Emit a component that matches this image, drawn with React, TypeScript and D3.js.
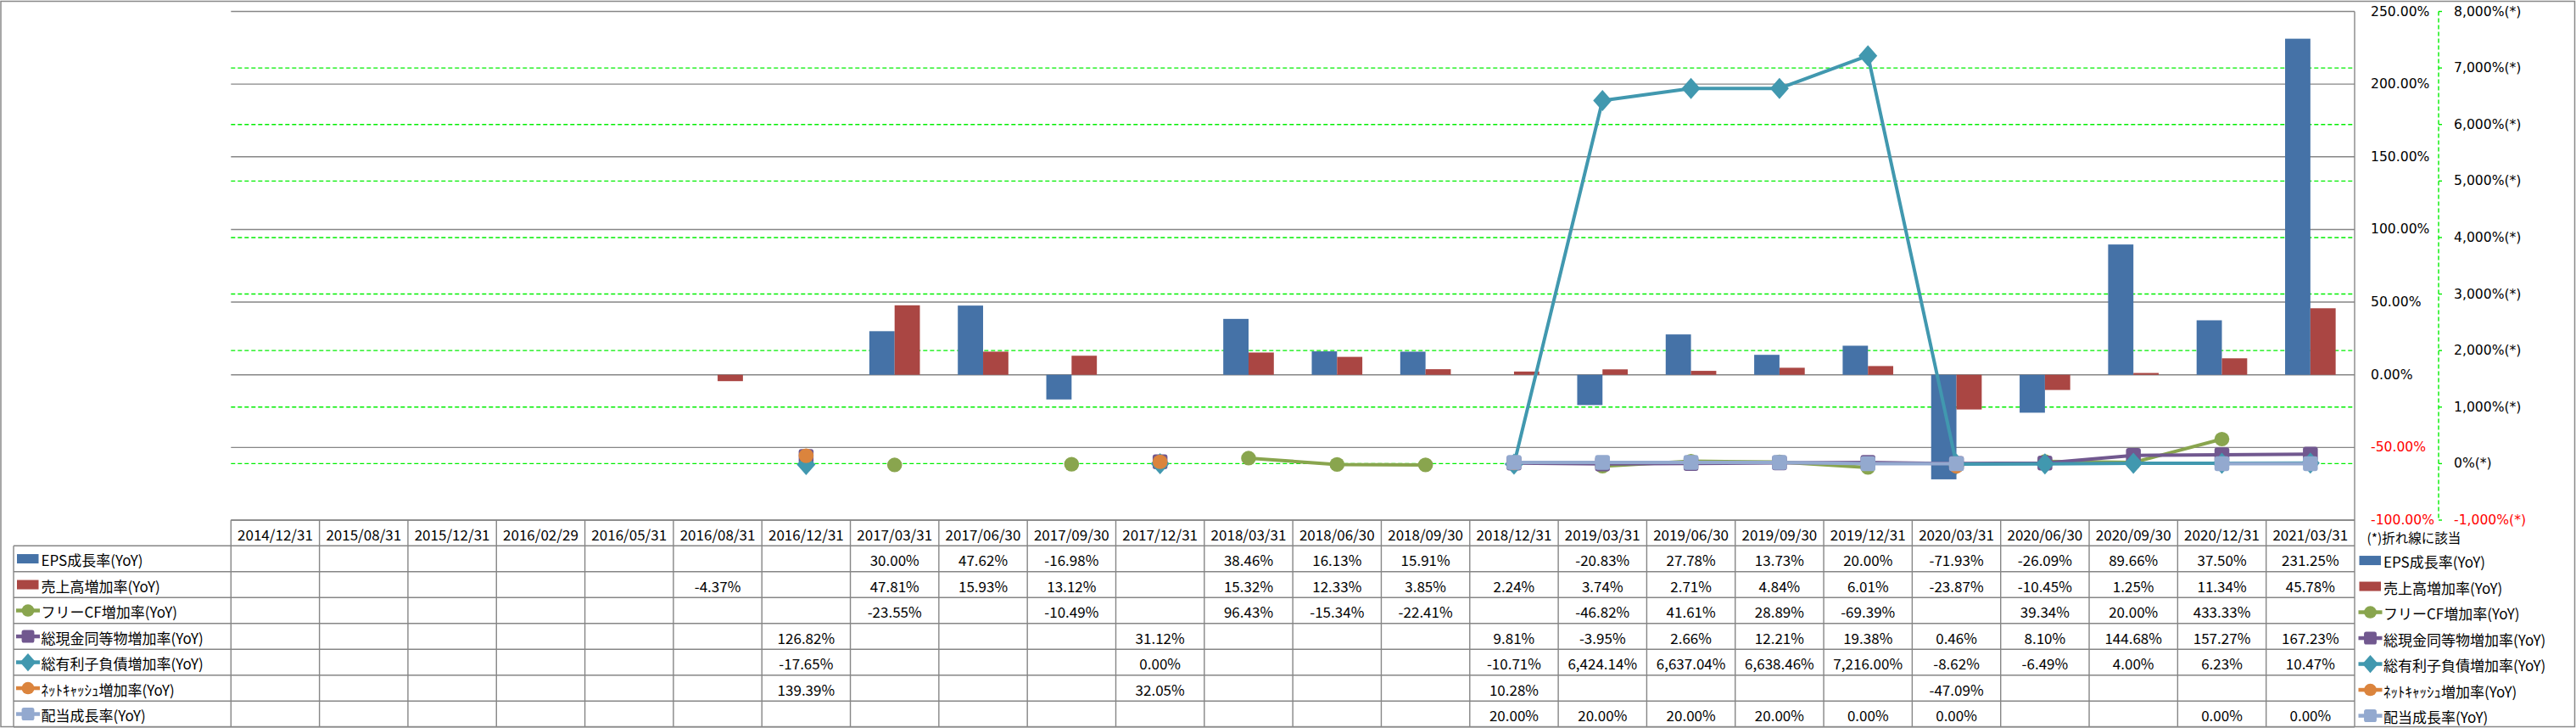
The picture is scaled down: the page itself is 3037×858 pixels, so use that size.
import React from "react";
import * as d3 from "d3";

const categories = [
  "2014/12/31", "2015/08/31", "2015/12/31", "2016/02/29", "2016/05/31", "2016/08/31",
  "2016/12/31", "2017/03/31", "2017/06/30", "2017/09/30", "2017/12/31", "2018/03/31",
  "2018/06/30", "2018/09/30", "2018/12/31", "2019/03/31", "2019/06/30", "2019/09/30",
  "2019/12/31", "2020/03/31", "2020/06/30", "2020/09/30", "2020/12/31", "2021/03/31",
];
const n = null;
const epsGrowth = [n, n, n, n, n, n, n, 30.0, 47.62, -16.98, n, 38.46, 16.13, 15.91, n, -20.83, 27.78, 13.73, 20.0, -71.93, -26.09, 89.66, 37.5, 231.25];
const salesGrowth = [n, n, n, n, n, -4.37, n, 47.81, 15.93, 13.12, n, 15.32, 12.33, 3.85, 2.24, 3.74, 2.71, 4.84, 6.01, -23.87, -10.45, 1.25, 11.34, 45.78];
const fcfGrowth = [n, n, n, n, n, n, n, -23.55, n, -10.49, n, 96.43, -15.34, -22.41, n, -46.82, 41.61, 28.89, -69.39, n, 39.34, 20.0, 433.33, n];
const cashGrowth = [n, n, n, n, n, n, 126.82, n, n, n, 31.12, n, n, n, 9.81, -3.95, 2.66, 12.21, 19.38, 0.46, 8.1, 144.68, 157.27, 167.23];
const debtGrowth = [n, n, n, n, n, n, -17.65, n, n, n, 0.0, n, n, n, -10.71, 6424.14, 6637.04, 6638.46, 7216.0, -8.62, -6.49, 4.0, 6.23, 10.47];
const netCashGrowth = [n, n, n, n, n, n, 139.39, n, n, n, 32.05, n, n, n, 10.28, n, n, n, n, -47.09, n, n, n, n];
const dividendGrowth = [n, n, n, n, n, n, n, n, n, n, n, n, n, n, 20.0, 20.0, 20.0, 20.0, 0.0, 0.0, n, n, 0.0, 0.0];

const leftTicks = [250, 200, 150, 100, 50, 0, -50, -100];
const rightTicks = [8000, 7000, 6000, 5000, 4000, 3000, 2000, 1000, 0, -1000];
const footnote = "(*)折れ線に該当";

type Series = {
  name: string;
  values: (number | null)[];
  color: string;
  kind: "bar" | "line";
  marker?: "circle" | "square" | "diamond";
};

const seriesList: Series[] = [
  { name: "EPS成長率(YoY)", values: epsGrowth, color: "#4572A7", kind: "bar" },
  { name: "売上高増加率(YoY)", values: salesGrowth, color: "#AA4643", kind: "bar" },
  { name: "フリーCF増加率(YoY)", values: fcfGrowth, color: "#89A54E", kind: "line", marker: "circle" },
  { name: "総現金同等物増加率(YoY)", values: cashGrowth, color: "#71588F", kind: "line", marker: "square" },
  { name: "総有利子負債増加率(YoY)", values: debtGrowth, color: "#4198AF", kind: "line", marker: "diamond" },
  { name: "ﾈｯﾄｷｬｯｼｭ増加率(YoY)", values: netCashGrowth, color: "#DB843D", kind: "line", marker: "circle" },
  { name: "配当成長率(YoY)", values: dividendGrowth, color: "#93A9CF", kind: "line", marker: "square" },
];

const W = 3037;
const H = 858;
const plotLeft = 272.3;
const plotRight = 2776;
const plotTop = 13.5;
const plotBottom = 613;
const rowH = 30.5;
const headerBottom = 643.3;
const tableLeft = 16;

const loc = d3.formatLocale({ decimal: ".", thousands: ",", grouping: [3], currency: ["", ""], minus: "-" });
const fmtVal = loc.format(",.2f");
const fmtLeft = loc.format(".2f");
const fmtRight = loc.format(",");

const GRID = "#868686";
const GREEN = "#00EE00";
const tableFont = "'Noto Sans CJK JP', 'DejaVu Sans', sans-serif";
const axisFont = "'DejaVu Sans', sans-serif";

function Marker({ type, x, y, color, scale = 1 }: { type: string; x: number; y: number; color: string; scale?: number }) {
  if (type === "circle") {
    return <ellipse cx={x} cy={y} rx={8.8 * scale} ry={8.6 * scale} fill={color} />;
  }
  if (type === "square") {
    const s = 17.5 * scale;
    return <rect x={x - s / 2} y={y - s / 2} width={s} height={s} rx={3 * scale} fill={color} />;
  }
  const hw = 11 * scale;
  const hh = 12.5 * scale;
  return <path d={`M${x},${y - hh}L${x + hw},${y}L${x},${y + hh}L${x - hw},${y}Z`} fill={color} />;
}

function LegendKey({ s, x, y }: { s: Series; x: number; y: number }) {
  if (s.kind === "bar") {
    return <rect x={x} y={y - 5.5} width={25.5} height={11} fill={s.color} />;
  }
  return (
    <g>
      <line x1={x - 1} x2={x + 27} y1={y} y2={y} stroke={s.color} strokeWidth={4.5} />
      <Marker type={s.marker!} x={x + 13} y={y} color={s.color} scale={0.85} />
    </g>
  );
}

export default function App() {
  const x = d3.scaleBand<string>().domain(categories).range([plotLeft, plotRight]).padding(0);
  const yL = d3.scaleLinear().domain([-100, 250]).range([plotBottom, plotTop]);
  const yR = d3.scaleLinear().domain([-1000, 8000]).range([plotBottom, plotTop]);
  const bw = x.bandwidth() / 3.5;
  const cx = (i: number) => (x(categories[i]) as number) + x.bandwidth() / 2;

  const bars = seriesList.filter((s) => s.kind === "bar");
  const lines = seriesList.filter((s) => s.kind === "line");

  const lineGen = d3
    .line<number | null>()
    .defined((d) => d !== null)
    .x((_, i) => cx(i))
    .y((d) => yR(d as number));

  const rowY = (r: number) => headerBottom + r * rowH;
  const tableBottom = rowY(seriesList.length);

  return (
    <svg
      width={W}
      height={H}
      style={{ position: "absolute", left: 0, top: 0, background: "#fff" }}
      xmlns="http://www.w3.org/2000/svg"
    >
      <rect x={0} y={0} width={W} height={H} fill="#fff" />
      {/* secondary gridlines */}
      {rightTicks
        .filter((t) => t !== 8000 && t !== -1000)
        .map((t) => (
          <line key={"gr" + t} x1={plotLeft} x2={plotRight} y1={yR(t)} y2={yR(t)} stroke={GREEN} strokeWidth={1.4} strokeDasharray="5,3" />
        ))}
      {/* primary gridlines */}
      {leftTicks.map((t) => (
        <line key={"gl" + t} x1={plotLeft} x2={plotRight} y1={yL(t)} y2={yL(t)} stroke={GRID} strokeWidth={1.4} />
      ))}
      <line x1={plotRight} x2={plotRight} y1={plotTop} y2={plotBottom} stroke={GRID} strokeWidth={1.4} />

      {/* bars */}
      {bars.map((s, si) =>
        s.values.map((v, i) => {
          if (v === null) return null;
          const bx = cx(i) - bw + si * bw;
          const y0 = yL(0);
          const y1 = yL(v);
          return <rect key={s.name + i} x={bx} y={Math.min(y0, y1)} width={bw} height={Math.abs(y1 - y0)} fill={s.color} />;
        })
      )}

      {/* lines */}
      {lines.map((s) => (
        <g key={s.name}>
          <path d={lineGen(s.values) || ""} fill="none" stroke={s.color} strokeWidth={4} strokeLinejoin="round" />
          {s.values.map((v, i) => (v === null ? null : <Marker key={i} type={s.marker!} x={cx(i)} y={yR(v)} color={s.color} />))}
        </g>
      ))}

      {/* left (primary) axis labels, placed on right */}
      {leftTicks.map((t) => (
        <text key={"lt" + t} x={2795} y={yL(t)} dominantBaseline="central" fontFamily={axisFont} fontSize={15.6} fill={t < 0 ? "#FF0000" : "#000"}>
          {fmtLeft(t) + "%"}
        </text>
      ))}
      {/* secondary axis */}
      <line x1={2875} x2={2875} y1={plotTop} y2={plotBottom} stroke={GREEN} strokeWidth={1.4} strokeDasharray="5,3" />
      {rightTicks.map((t) => (
        <g key={"rt" + t}>
          <line x1={2875} x2={2879} y1={yR(t)} y2={yR(t)} stroke={GREEN} strokeWidth={1.4} />
          <text x={2893} y={yR(t)} dominantBaseline="central" fontFamily={axisFont} fontSize={15.6} fill={t < 0 ? "#FF0000" : "#000"}>
            {fmtRight(t) + "%(*)"}
          </text>
        </g>
      ))}

      {/* data table */}
      <g stroke={GRID} strokeWidth={1.4}>
        <line x1={plotLeft} x2={plotRight} y1={plotBottom} y2={plotBottom} />
        {d3.range(seriesList.length + 1).map((r) => (
          <line key={"hr" + r} x1={tableLeft} x2={plotRight} y1={rowY(r)} y2={rowY(r)} />
        ))}
        <line x1={tableLeft} x2={tableLeft} y1={headerBottom} y2={tableBottom} />
        {categories.map((c) => (
          <line key={"vc" + c} x1={x(c)} x2={x(c)} y1={plotBottom} y2={tableBottom} />
        ))}
        <line x1={plotRight} x2={plotRight} y1={plotBottom} y2={tableBottom} />
      </g>
      {categories.map((c, i) => (
        <text key={"hc" + c} x={cx(i)} y={(plotBottom + headerBottom) / 2 + 1} textAnchor="middle" dominantBaseline="central" fontFamily={tableFont} fontSize={17}>
          {c}
        </text>
      ))}
      {seriesList.map((s, r) => {
        const yc = rowY(r) + rowH / 2;
        return (
          <g key={"row" + s.name}>
            <LegendKey s={s} x={20} y={yc} />
            <text x={48.5} y={yc + 1} dominantBaseline="central" fontFamily={tableFont} fontSize={17}>
              {s.name}
            </text>
            {s.values.map((v, i) =>
              v === null ? null : (
                <text key={i} x={cx(i)} y={yc + 1} textAnchor="middle" dominantBaseline="central" fontFamily={tableFont} fontSize={17}>
                  {fmtVal(v) + "%"}
                </text>
              )
            )}
            <LegendKey s={s} x={2781.5} y={yc + 2} />
            <text x={2810} y={yc + 3} dominantBaseline="central" fontFamily={tableFont} fontSize={17}>
              {s.name}
            </text>
          </g>
        );
      })}
      <text x={2790.5} y={633} dominantBaseline="central" fontFamily={tableFont} fontSize={15.5}>
        {footnote}
      </text>

      {/* outer border */}
      <rect x={1} y={1.5} width={W - 2.5} height={H - 3} fill="none" stroke="#898989" strokeWidth={1.5} />
    </svg>
  );
}
